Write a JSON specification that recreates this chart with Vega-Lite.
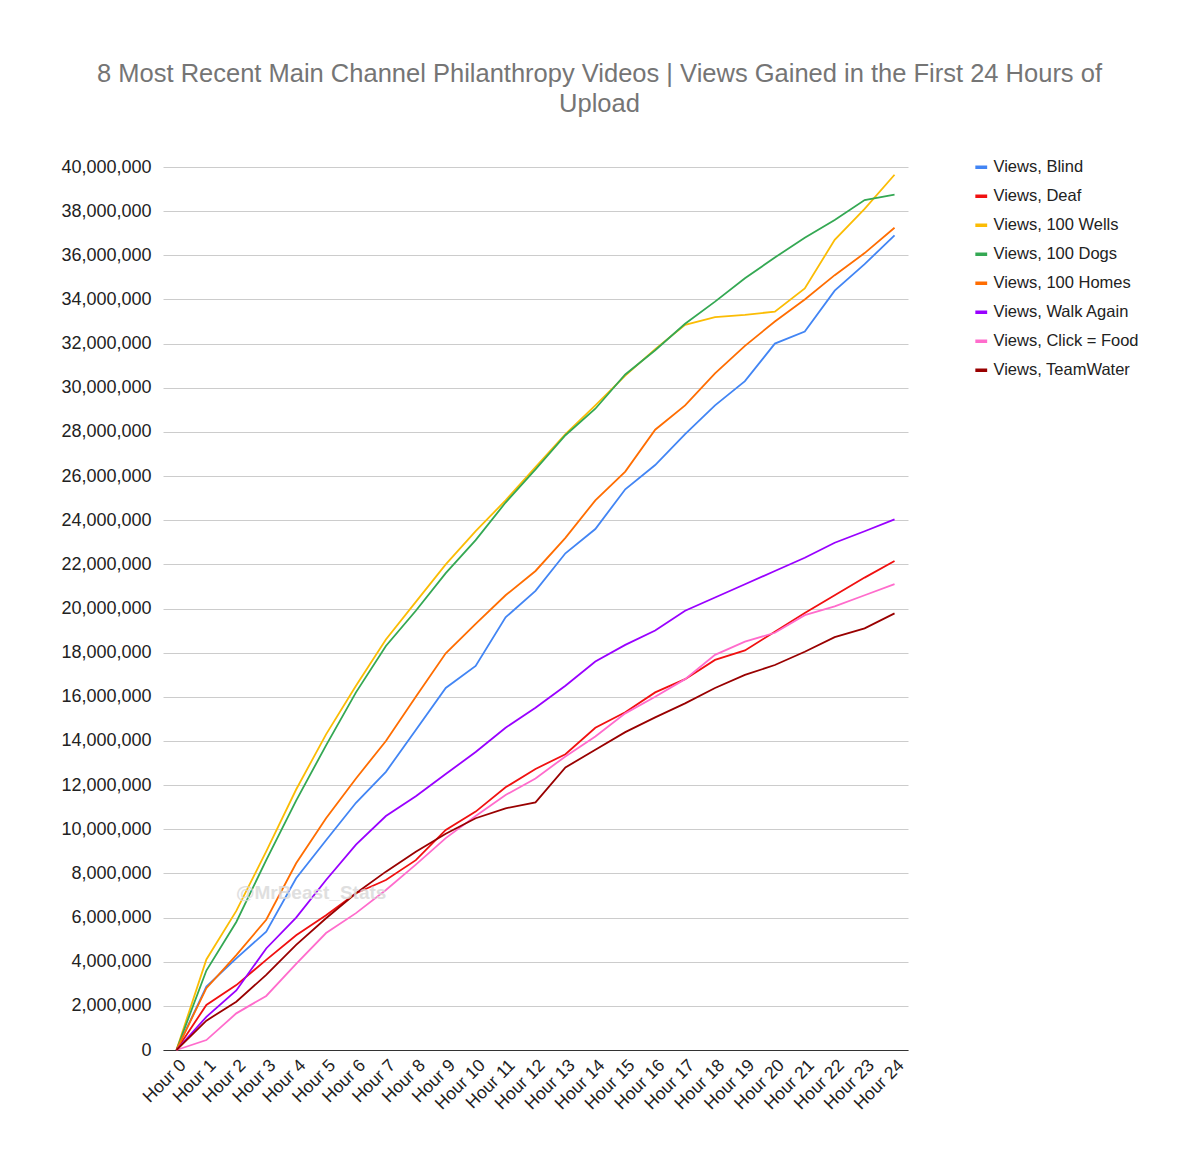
{
  "$schema": "https://vega.github.io/schema/vega-lite/v6.json",
  "autosize": {"type": "none"},
  "padding": {"left": 163, "top": 167, "right": 292, "bottom": 117},
  "width": 745,
  "height": 883,
  "background": "white",
  "title": {
    "text": ["8 Most Recent Main Channel Philanthropy Videos | Views Gained in the First 24 Hours of", "Upload"],
    "anchor": "middle",
    "frame": "group",
    "dx": 64,
    "offset": 41,
    "fontSize": 25.5,
    "fontWeight": "normal",
    "color": "#757575",
    "lineHeight": 30
  },
  "layer": [
    {
      "data": {
        "values": [
          {"h": 0, "Views, Blind": 0, "Views, Deaf": 0, "Views, 100 Wells": 0, "Views, 100 Dogs": 0, "Views, 100 Homes": 0, "Views, Walk Again": 0, "Views, Click = Food": 0, "Views, TeamWater": 0},
          {"h": 1, "Views, Blind": 2870000, "Views, Deaf": 2040000, "Views, 100 Wells": 4100000, "Views, 100 Dogs": 3600000, "Views, 100 Homes": 2800000, "Views, Walk Again": 1500000, "Views, Click = Food": 450000, "Views, TeamWater": 1330000},
          {"h": 2, "Views, Blind": 4150000, "Views, Deaf": 2940000, "Views, 100 Wells": 6300000, "Views, 100 Dogs": 5800000, "Views, 100 Homes": 4300000, "Views, Walk Again": 2700000, "Views, Click = Food": 1660000, "Views, TeamWater": 2190000},
          {"h": 3, "Views, Blind": 5360000, "Views, Deaf": 4080000, "Views, 100 Wells": 9000000, "Views, 100 Dogs": 8600000, "Views, 100 Homes": 5900000, "Views, Walk Again": 4600000, "Views, Click = Food": 2450000, "Views, TeamWater": 3400000},
          {"h": 4, "Views, Blind": 7780000, "Views, Deaf": 5200000, "Views, 100 Wells": 11800000, "Views, 100 Dogs": 11300000, "Views, 100 Homes": 8460000, "Views, Walk Again": 6000000, "Views, Click = Food": 3900000, "Views, TeamWater": 4760000},
          {"h": 5, "Views, Blind": 9500000, "Views, Deaf": 6100000, "Views, 100 Wells": 14300000, "Views, 100 Dogs": 13800000, "Views, 100 Homes": 10500000, "Views, Walk Again": 7700000, "Views, Click = Food": 5300000, "Views, TeamWater": 5970000},
          {"h": 6, "Views, Blind": 11200000, "Views, Deaf": 7100000, "Views, 100 Wells": 16500000, "Views, 100 Dogs": 16200000, "Views, 100 Homes": 12300000, "Views, Walk Again": 9300000, "Views, Click = Food": 6200000, "Views, TeamWater": 7100000},
          {"h": 7, "Views, Blind": 12600000, "Views, Deaf": 7700000, "Views, 100 Wells": 18600000, "Views, 100 Dogs": 18300000, "Views, 100 Homes": 14000000, "Views, Walk Again": 10600000, "Views, Click = Food": 7250000, "Views, TeamWater": 8080000},
          {"h": 8, "Views, Blind": 14500000, "Views, Deaf": 8600000, "Views, 100 Wells": 20300000, "Views, 100 Dogs": 19900000, "Views, 100 Homes": 16000000, "Views, Walk Again": 11500000, "Views, Click = Food": 8400000, "Views, TeamWater": 8980000},
          {"h": 9, "Views, Blind": 16400000, "Views, Deaf": 9970000, "Views, 100 Wells": 22000000, "Views, 100 Dogs": 21600000, "Views, 100 Homes": 17970000, "Views, Walk Again": 12500000, "Views, Click = Food": 9600000, "Views, TeamWater": 9800000},
          {"h": 10, "Views, Blind": 17400000, "Views, Deaf": 10800000, "Views, 100 Wells": 23500000, "Views, 100 Dogs": 23100000, "Views, 100 Homes": 19300000, "Views, Walk Again": 13500000, "Views, Click = Food": 10600000, "Views, TeamWater": 10500000},
          {"h": 11, "Views, Blind": 19600000, "Views, Deaf": 11900000, "Views, 100 Wells": 24900000, "Views, 100 Dogs": 24800000, "Views, 100 Homes": 20600000, "Views, Walk Again": 14600000, "Views, Click = Food": 11550000, "Views, TeamWater": 10950000},
          {"h": 12, "Views, Blind": 20800000, "Views, Deaf": 12730000, "Views, 100 Wells": 26400000, "Views, 100 Dogs": 26300000, "Views, 100 Homes": 21700000, "Views, Walk Again": 15500000, "Views, Click = Food": 12300000, "Views, TeamWater": 11220000},
          {"h": 13, "Views, Blind": 22500000, "Views, Deaf": 13400000, "Views, 100 Wells": 27900000, "Views, 100 Dogs": 27850000, "Views, 100 Homes": 23200000, "Views, Walk Again": 16500000, "Views, Click = Food": 13300000, "Views, TeamWater": 12800000},
          {"h": 14, "Views, Blind": 23600000, "Views, Deaf": 14600000, "Views, 100 Wells": 29200000, "Views, 100 Dogs": 29050000, "Views, 100 Homes": 24900000, "Views, Walk Again": 17600000, "Views, Click = Food": 14200000, "Views, TeamWater": 13600000},
          {"h": 15, "Views, Blind": 25400000, "Views, Deaf": 15300000, "Views, 100 Wells": 30550000, "Views, 100 Dogs": 30600000, "Views, 100 Homes": 26200000, "Views, Walk Again": 18350000, "Views, Click = Food": 15250000, "Views, TeamWater": 14400000},
          {"h": 16, "Views, Blind": 26500000, "Views, Deaf": 16200000, "Views, 100 Wells": 31750000, "Views, 100 Dogs": 31700000, "Views, 100 Homes": 28100000, "Views, Walk Again": 19000000, "Views, Click = Food": 16000000, "Views, TeamWater": 15070000},
          {"h": 17, "Views, Blind": 27900000, "Views, Deaf": 16800000, "Views, 100 Wells": 32850000, "Views, 100 Dogs": 32900000, "Views, 100 Homes": 29200000, "Views, Walk Again": 19900000, "Views, Click = Food": 16800000, "Views, TeamWater": 15700000},
          {"h": 18, "Views, Blind": 29200000, "Views, Deaf": 17670000, "Views, 100 Wells": 33200000, "Views, 100 Dogs": 33900000, "Views, 100 Homes": 30650000, "Views, Walk Again": 20500000, "Views, Click = Food": 17900000, "Views, TeamWater": 16400000},
          {"h": 19, "Views, Blind": 30300000, "Views, Deaf": 18100000, "Views, 100 Wells": 33300000, "Views, 100 Dogs": 34960000, "Views, 100 Homes": 31900000, "Views, Walk Again": 21100000, "Views, Click = Food": 18500000, "Views, TeamWater": 16990000},
          {"h": 20, "Views, Blind": 32000000, "Views, Deaf": 18950000, "Views, 100 Wells": 33450000, "Views, 100 Dogs": 35900000, "Views, 100 Homes": 33000000, "Views, Walk Again": 21700000, "Views, Click = Food": 18900000, "Views, TeamWater": 17440000},
          {"h": 21, "Views, Blind": 32550000, "Views, Deaf": 19800000, "Views, 100 Wells": 34500000, "Views, 100 Dogs": 36800000, "Views, 100 Homes": 34000000, "Views, Walk Again": 22300000, "Views, Click = Food": 19700000, "Views, TeamWater": 18040000},
          {"h": 22, "Views, Blind": 34400000, "Views, Deaf": 20600000, "Views, 100 Wells": 36700000, "Views, 100 Dogs": 37600000, "Views, 100 Homes": 35100000, "Views, Walk Again": 22980000, "Views, Click = Food": 20100000, "Views, TeamWater": 18700000},
          {"h": 23, "Views, Blind": 35600000, "Views, Deaf": 21400000, "Views, 100 Wells": 38100000, "Views, 100 Dogs": 38500000, "Views, 100 Homes": 36100000, "Views, Walk Again": 23500000, "Views, Click = Food": 20600000, "Views, TeamWater": 19100000},
          {"h": 24, "Views, Blind": 36900000, "Views, Deaf": 22150000, "Views, 100 Wells": 39650000, "Views, 100 Dogs": 38750000, "Views, 100 Homes": 37250000, "Views, Walk Again": 24040000, "Views, Click = Food": 21100000, "Views, TeamWater": 19780000}
        ]
      },
      "transform": [
        {"fold": ["Views, Blind", "Views, Deaf", "Views, 100 Wells", "Views, 100 Dogs", "Views, 100 Homes", "Views, Walk Again", "Views, Click = Food", "Views, TeamWater"], "as": ["series", "views"]}
      ],
      "mark": {"type": "line", "strokeWidth": 1.8},
      "encoding": {
        "x": {
          "field": "h",
          "type": "ordinal",
          "scale": {"type": "point", "padding": 0.45},
          "axis": {
            "title": null,
            "labelExpr": "'Hour ' + datum.label",
            "labelAngle": -45,
            "labelFontSize": 17.5,
            "labelColor": "#222222",
            "ticks": false,
            "domainColor": "#333333",
            "domainWidth": 1.2,
            "labelPadding": 6
          }
        },
        "y": {
          "field": "views",
          "type": "quantitative",
          "scale": {"domain": [0, 40000000], "nice": false},
          "axis": {
            "title": null,
            "values": [0, 2000000, 4000000, 6000000, 8000000, 10000000, 12000000, 14000000, 16000000, 18000000, 20000000, 22000000, 24000000, 26000000, 28000000, 30000000, 32000000, 34000000, 36000000, 38000000, 40000000],
            "format": ",d",
            "labelFontSize": 18,
            "labelColor": "#222222",
            "labelPadding": 12,
            "ticks": false,
            "domain": false,
            "gridColor": "#cccccc",
            "gridWidth": 1
          }
        },
        "color": {
          "field": "series",
          "type": "nominal",
          "scale": {
            "domain": ["Views, Blind", "Views, Deaf", "Views, 100 Wells", "Views, 100 Dogs", "Views, 100 Homes", "Views, Walk Again", "Views, Click = Food", "Views, TeamWater"],
            "range": ["#4285f4", "#f01010", "#fbbc04", "#34a853", "#ff6d01", "#9900ff", "#ff6ccc", "#990000"]
          },
          "legend": {
            "title": null,
            "orient": "none",
            "legendX": 810,
            "legendY": -8,
            "symbolType": "stroke",
            "symbolStrokeWidth": 3.5,
            "symbolSize": 140,
            "labelFontSize": 16.5,
            "labelColor": "#222222",
            "labelOffset": 4,
            "rowPadding": 12
          }
        }
      }
    },
    {
      "data": {"values": [{"h": 4, "v": 7100000, "label": "@MrBeast_Stats"}]},
      "mark": {"type": "text", "dx": 15, "fontSize": 19, "fontWeight": "bold", "color": "#d8d8d8", "opacity": 0.8},
      "encoding": {
        "x": {"field": "h", "type": "ordinal"},
        "y": {"field": "v", "type": "quantitative"},
        "text": {"field": "label"}
      }
    }
  ],
  "config": {
    "font": "Liberation Sans",
    "view": {"stroke": null},
    "axisX": {"grid": false}
  }
}
